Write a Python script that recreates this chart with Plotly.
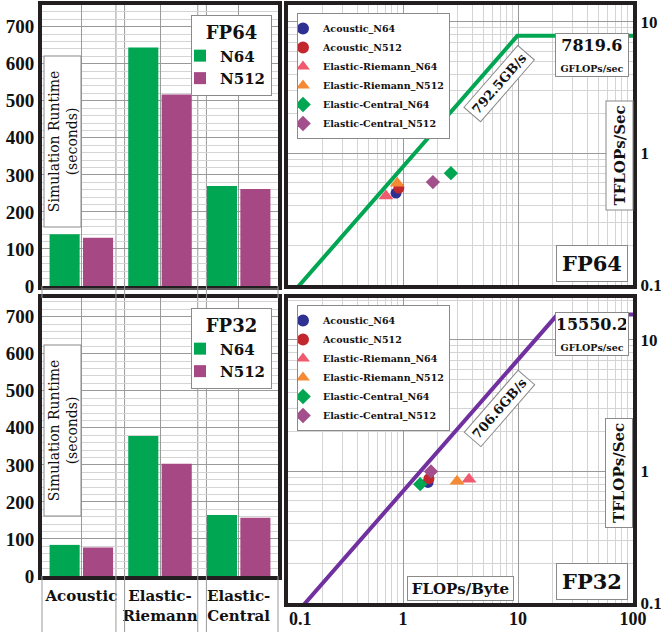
import math
import plotly.graph_objects as go

W, H = 661, 632

# ---------------- data ----------------
categories = ["Acoustic", "Elastic-Riemann", "Elastic-Central"]
category_labels = ["Acoustic", "Elastic-<br>Riemann", "Elastic-<br>Central"]
grid_sizes = ["N64", "N512"]
fp64_runtime_n64 = [140, 644, 270]
fp64_runtime_n512 = [130, 517, 262]
fp32_runtime_n64 = [84, 378, 165]
fp32_runtime_n512 = [77, 303, 157]

kernels = ["Acoustic_N64", "Acoustic_N512", "Elastic-Riemann_N64",
           "Elastic-Riemann_N512", "Elastic-Central_N64", "Elastic-Central_N512"]
fp64_intensity = [0.87, 0.92, 0.71, 0.89, 2.61, 1.82]
fp64_tflops = [0.50, 0.545, 0.474, 0.594, 0.708, 0.605]
fp32_intensity = [1.65, 1.68, 3.75, 2.95, 1.41, 1.75]
fp32_tflops = [0.824, 0.88, 0.87, 0.84, 0.80, 1.0]

precisions = ["FP64", "FP32"]
peak_gflops = [7819.6, 15550.2]
bandwidth_gbs = [792.5, 706.6]
roof_ticks = [0.1, 1, 10, 100]

# ---------------- style ----------------
FONT = "DejaVu Serif"
NUMFONT = "Liberation Serif"
FRAME = "#231f20"
GRID = "#9a9a9a"
MINOR = "#d4d4d4"
BAR_COLORS = ["#00a651", "#a64884"]
ROOF_COLORS = ["#00a651", "#7030a0"]
K_COLORS = ["#2e3192", "#c1272d", "#f05a6e", "#f58a35", "#00a651", "#a24f8c"]
K_SYMBOLS = ["circle", "circle", "triangle-up", "triangle-up", "diamond", "diamond"]
K_SIZES = [11, 11, 13, 13, 11, 11]


def PX(x):
    return x / W


def PY(y):
    return 1 - y / H


def px_x(a, b):
    return [PX(a), PX(b)]


def px_y(top, bottom):
    return [PY(bottom), PY(top)]


BAR_X = (42, 278)
BAR_TOP_Y = (5, 286)
BAR_BOT_Y = (298, 576)
ROOF_X = (288, 633)
ROOF_TOP_Y = (5, 285)
ROOF_BOT_Y = (298, 603)
BAR_PX_PER_UNIT = 0.3704
ROOF_PX_PER_DECADE = 131.6

fig = go.Figure()

# ---------------- bars ----------------
bar_sets = [
    ("x", "y", "legend", [fp64_runtime_n64, fp64_runtime_n512]),
    ("x2", "y2", "legend2", [fp32_runtime_n64, fp32_runtime_n512]),
]
for xa, ya, leg, series in bar_sets:
    for name, vals, col in zip(grid_sizes, series, BAR_COLORS):
        fig.add_trace(go.Bar(x=categories, y=vals, name=name, marker_color=col,
                             marker_line_width=0, xaxis=xa, yaxis=ya, legend=leg))

# ---------------- rooflines ----------------
roof_sets = [
    ("x3", "y3", "legend3", fp64_intensity, fp64_tflops),
    ("x4", "y4", "legend4", fp32_intensity, fp32_tflops),
]
for i, (xa, ya, leg, ai, tf) in enumerate(roof_sets):
    bw = bandwidth_gbs[i] / 1000.0
    peak = peak_gflops[i] / 1000.0
    ridge = peak / bw
    xs = [roof_ticks[0], ridge, roof_ticks[-1]]
    ys = [min(bw * v, peak) for v in xs]
    fig.add_trace(go.Scatter(x=xs, y=ys, mode="lines", line=dict(color=ROOF_COLORS[i], width=4),
                             showlegend=False, hoverinfo="skip", xaxis=xa, yaxis=ya))
    for k in range(len(kernels)):
        fig.add_trace(go.Scatter(x=[ai[k]], y=[tf[k]], mode="markers", name=kernels[k],
                                 marker=dict(color=K_COLORS[k], symbol=K_SYMBOLS[k], size=K_SIZES[k]),
                                 xaxis=xa, yaxis=ya, legend=leg))

# ---------------- axes ----------------
frame = dict(showline=True, linecolor=FRAME, linewidth=4, mirror=True, zeroline=False,
             automargin=False)


def numfont(size):
    return dict(family=NUMFONT, size=size, color="#111", weight="bold")


for n, (ydom, show) in enumerate([(BAR_TOP_Y, False), (BAR_BOT_Y, True)], start=1):
    sfx = '' if n == 1 else str(n)
    fig.layout[f"xaxis{sfx}"] = dict(
        domain=px_x(*BAR_X), anchor=f"y{sfx}", type="category",
        range=[-0.5, 2.5], showgrid=True, gridcolor=GRID, gridwidth=1,
        showticklabels=show, tickvals=categories, ticktext=category_labels, tickangle=0,
        ticks="outside" if show else "", ticklen=3, tickcolor="rgba(0,0,0,0)",
        tickfont=dict(family=FONT, size=15, color="#111", weight="bold"), **frame)
    fig.layout[f"yaxis{sfx}"] = dict(
        domain=px_y(*ydom), anchor=f"x{sfx}",
        range=[0, (ydom[1] - ydom[0]) / BAR_PX_PER_UNIT],
        tickvals=[0, 100, 200, 300, 400, 500, 600, 700], showgrid=True, gridcolor=GRID,
        gridwidth=1, minor=dict(dtick=20, showgrid=True, gridcolor=MINOR, gridwidth=1),
        tickfont=numfont(19), ticks="", **frame)

minor_vals = [m * 10 ** e for e in (-1, 0, 1) for m in range(2, 10)]
for n, (ydom, showx) in zip((3, 4), [(ROOF_TOP_Y, False), (ROOF_BOT_Y, True)]):
    fig.layout[f"xaxis{n}"] = dict(
        domain=px_x(*ROOF_X), anchor=f"y{n}", type="log", range=[-1, 2],
        tickvals=roof_ticks, ticktext=[""] + [str(v) for v in roof_ticks[1:]],
        showticklabels=showx, showgrid=True, gridcolor=GRID, gridwidth=1, tickangle=0,
        minor=dict(tickvals=minor_vals, showgrid=True, gridcolor=MINOR, gridwidth=1),
        ticks="", ticklabelstandoff=-4, tickfont=numfont(18), **frame)
    fig.layout[f"yaxis{n}"] = dict(
        domain=px_y(*ydom), anchor=f"x{n}", type="log",
        range=[-1, -1 + (ydom[1] - ydom[0]) / ROOF_PX_PER_DECADE], side="right",
        tickvals=roof_ticks[:3], ticktext=[str(v) for v in roof_ticks[:3]],
        showgrid=True, gridcolor=GRID, gridwidth=1,
        minor=dict(tickvals=minor_vals, showgrid=True, gridcolor=MINOR, gridwidth=1),
        ticks="", tickfont=numfont(17), **frame)

# ---------------- legends ----------------
def bar_legend(top, title):
    return dict(x=PX(272), xanchor="right", y=PY(top), yanchor="top",
                title=dict(text=f"<b>{title}</b>", font=dict(family=FONT, size=18, color="#111"),
                           side="top center"),
                bgcolor="white", bordercolor="#8a8a8a", borderwidth=1,
                font=dict(family=FONT, size=15, color="#111", weight="bold"),
                itemwidth=30, tracegroupgap=0, indentation=-12)


def roof_legend(top):
    return dict(x=PX(297), xanchor="left", y=PY(top), yanchor="top",
                bgcolor="white", bordercolor="#8a8a8a", borderwidth=1,
                font=dict(family=FONT, size=9.5, color="#111", weight="bold"),
                itemwidth=30, itemsizing="constant", tracegroupgap=0, indentation=-15)


fig.update_layout(
    legend=bar_legend(15, precisions[0]),
    legend2=bar_legend(308, precisions[1]),
    legend3=roof_legend(13),
    legend4=roof_legend(305),
)

# ---------------- shapes (category separators) ----------------
shapes = []
sep_positions = [0.44, 0.55, 1.48, 1.59]
for xa in ("x", "x2"):
    for p in sep_positions:
        shapes.append(dict(type="line", xref=xa, yref=f"{'y' if xa == 'x' else 'y2'} domain",
                           x0=p, x1=p, y0=0, y1=1, line=dict(color=GRID, width=1), layer="below"))


def cat_px(p):
    return BAR_X[0] + (p + 0.5) / 3 * (BAR_X[1] - BAR_X[0])


for (y0, y1) in [(BAR_TOP_Y[1], BAR_BOT_Y[0]), (BAR_BOT_Y[1], H)]:
    for p in [-0.5] + sep_positions + [2.5]:
        xp = PX(cat_px(p))
        shapes.append(dict(type="line", xref="paper", yref="paper", x0=xp, x1=xp,
                           y0=PY(y0), y1=PY(y1), line=dict(color=GRID, width=1)))
shapes.append(dict(type="line", xref="paper", yref="paper", x0=PX(BAR_X[0]), x1=PX(BAR_X[1]),
                   y0=PY(289), y1=PY(289), line=dict(color=GRID, width=1)))
fig.update_layout(shapes=shapes)

# ---------------- annotations ----------------
BOX = dict(bgcolor="white", bordercolor="#8a8a8a", borderwidth=1)
ann = []


def box_text(x, y, text, size, w=None, h=None, angle=0, weight="bold", xref="paper", yref="paper", pad=2):
    d = dict(x=x, y=y, xref=xref, yref=yref, text=text, showarrow=False, textangle=angle,
             xanchor="center", yanchor="middle",
             font=dict(family=FONT, size=size, color="#111", weight=weight), borderpad=pad, **BOX)
    if w:
        d["width"] = w
    if h:
        d["height"] = h
    return d


SP = "&nbsp;" * 3
for yc in (141, 430):
    ann.append(box_text(PX(62.5), PY(yc), f"{SP}Simulation Runtime{SP}<br>(seconds)", 14,
                        angle=-90, weight="normal", pad=1))

for i, (xa, ya, top, bot) in enumerate([("x3", "y3", 5, 285), ("x4", "y4", 298, 603)]):
    peak_txt = f"{peak_gflops[i]:.1f}<br><span style='font-size:9.5px'>GFLOPs/sec</span>"
    ann.append(box_text(PX(592), PY((top + 50) if i == 0 else 334), peak_txt, 16, w=68))
    bw_ai = 6.9
    ann.append(box_text(math.log10(bw_ai), math.log10(bandwidth_gbs[i] / 1000 * bw_ai) - 0.21,
                        f"{bandwidth_gbs[i]}GB/s", 13, angle=-49, xref=xa, yref=ya, pad=3))
    ann.append(box_text(PX(592), PY(bot - 22), precisions[i], 21, w=66, h=31))
    ann.append(box_text(PX(619), PY(155.5 if i == 0 else 473), "TFLOPs/Sec", 15,
                        angle=-90, pad=4))

ann.append(box_text(PX(460.5), PY(588.5), "FLOPs/Byte", 15, w=101, h=19))
ann.append(dict(x=PX(300), y=PY(619), xref="paper", yref="paper", text="0.1", showarrow=False,
                xanchor="center", yanchor="middle", font=numfont(18)))
fig.update_layout(annotations=ann)

fig.update_layout(
    width=W, height=H, margin=dict(l=0, r=0, t=0, b=0, autoexpand=False), autosize=False,
    paper_bgcolor="white", plot_bgcolor="white",
    barmode="group", bargap=0.15, bargroupgap=0.1,
    font=dict(family=FONT, color="#111"),
)

fig.write_html("out.html", config={"displayModeBar": False, "responsive": False},
               post_script="document.body.style.margin='0';")
